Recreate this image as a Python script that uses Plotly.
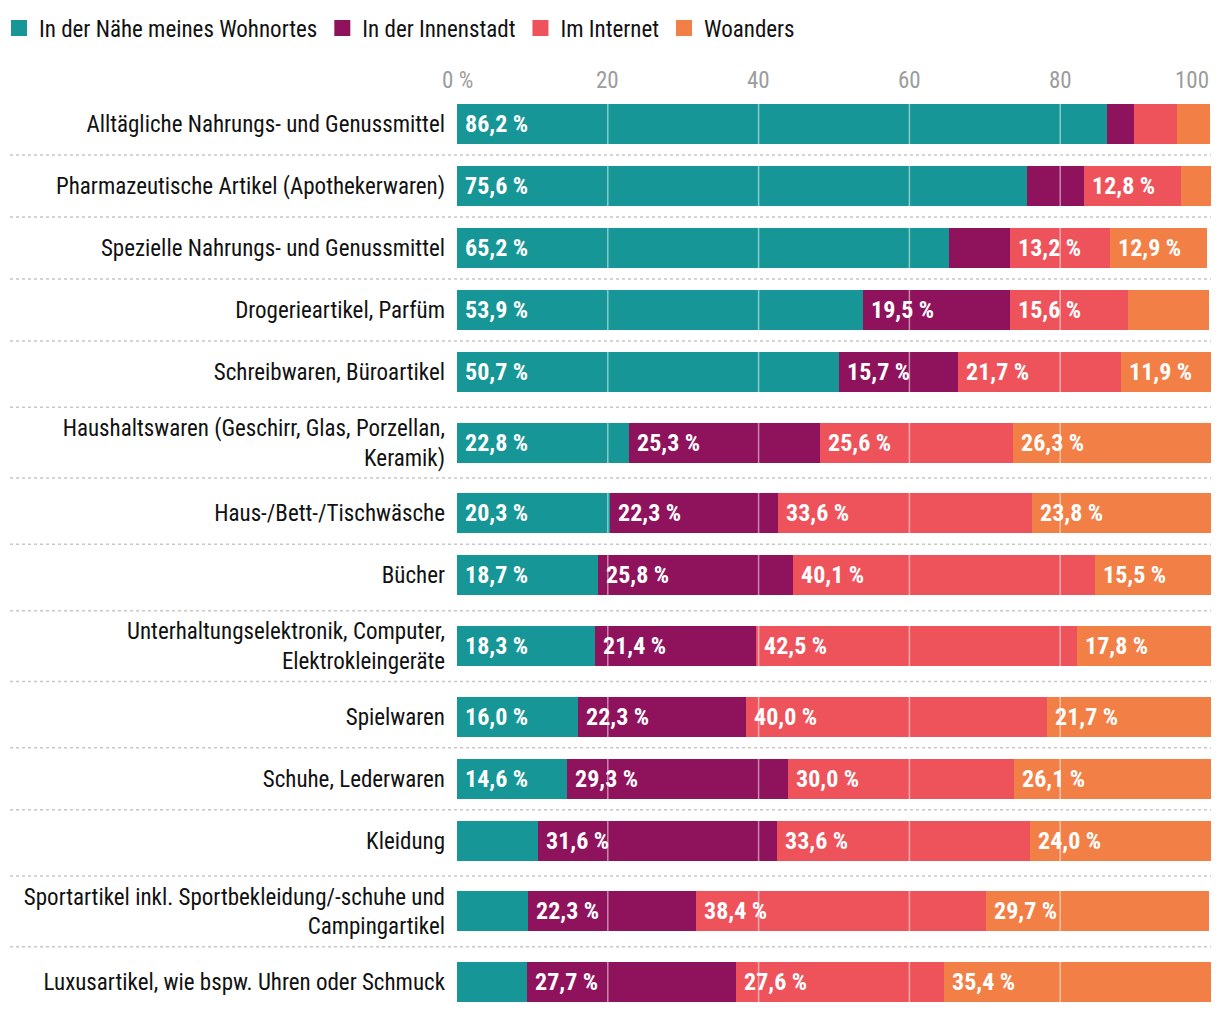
import plotly.graph_objects as go

# ---------------- data ----------------
categories = [
    "Alltägliche Nahrungs- und Genussmittel",
    "Pharmazeutische Artikel (Apothekerwaren)",
    "Spezielle Nahrungs- und Genussmittel",
    "Drogerieartikel, Parfüm",
    "Schreibwaren, Büroartikel",
    "Haushaltswaren (Geschirr, Glas, Porzellan,<br>Keramik)",
    "Haus-/Bett-/Tischwäsche",
    "Bücher",
    "Unterhaltungselektronik, Computer,<br>Elektrokleingeräte",
    "Spielwaren",
    "Schuhe, Lederwaren",
    "Kleidung",
    "Sportartikel inkl. Sportbekleidung/-schuhe und<br>Campingartikel",
    "Luxusartikel, wie bspw. Uhren oder Schmuck",
]

series_names = ["In der Nähe meines Wohnortes", "In der Innenstadt", "Im Internet", "Woanders"]

naehe      = [86.2, 75.6, 65.2, 53.9, 50.7, 22.8, 20.3, 18.7, 18.3, 16.0, 14.6, 10.8, 9.4, 9.3]
innenstadt = [3.6, 7.6, 8.2, 19.5, 15.7, 25.3, 22.3, 25.8, 21.4, 22.3, 29.3, 31.6, 22.3, 27.7]
internet   = [5.7, 12.8, 13.2, 15.6, 21.7, 25.6, 33.6, 40.1, 42.5, 40.0, 30.0, 33.6, 38.4, 27.6]
woanders   = [4.4, 4.0, 12.9, 10.8, 11.9, 26.3, 23.8, 15.5, 17.8, 21.7, 26.1, 24.0, 29.7, 35.4]

tick_values = [0, 20, 40, 60, 80, 100]
tick_labels = ["0 %", "20", "40", "60", "80", "100"]

# ---------------- style ----------------
colors = ["#169696", "#8e125c", "#ee535b", "#f27f45"]
FONT = "Liberation Sans Narrow, Roboto Condensed, Arial Narrow, Roboto, sans-serif"
W, H = 1220, 1014
M_L, M_R, M_T, M_B = 449, 17, 86, 18
PX_PER_ROW = 62.0
BAR_W = 40 / PX_PER_ROW
LABEL_MIN = 11

all_series = [naehe, innenstadt, internet, woanders]

# row centres: two-line labels get taller rows
centers = []
pos = 0.0
prev_h = None
for cat in categories:
    h = 1 + 0.28 * cat.count("<br>")
    if prev_h is not None:
        pos += (prev_h + h) / 2
    centers.append(pos)
    prev_h = h

plot_h = H - M_T - M_B
plot_w = W - M_L - M_R
y_top = centers[0] - 0.484
y_bottom = y_top + plot_h / PX_PER_ROW

fig = go.Figure()

for name, vals, col in zip(series_names, all_series, colors):
    fig.add_trace(go.Bar(
        x=vals, y=centers, orientation="h", name=name,
        marker=dict(color=col, line=dict(width=0)),
        width=BAR_W, showlegend=False, hoverinfo="skip",
    ))

# legend entries (larger square markers)
for name, col in zip(series_names, colors):
    fig.add_trace(go.Scatter(
        x=[None], y=[None], mode="markers", name=name,
        marker=dict(symbol="square", size=20, color=col),
        showlegend=True,
    ))

annotations = []
# value labels
for i, c in enumerate(centers):
    start = 0.0
    for vals in all_series:
        v = vals[i]
        if v >= LABEL_MIN:
            annotations.append(dict(
                x=start, y=c, xref="x", yref="y", xanchor="left", yanchor="middle",
                xshift=6, showarrow=False,
                text=f"{v:.1f}".replace(".", ",") + " %",
                font=dict(family=FONT, size=24, color="white", weight="bold"),
            ))
        start += v

# top axis labels
for tv, tl in zip(tick_values, tick_labels):
    annotations.append(dict(
        x=tv, y=1, xref="x", yref="paper",
        xanchor="right" if tv == tick_values[-1] else "center",
        yanchor="bottom", yshift=-2, showarrow=False, text=tl,
        font=dict(family=FONT, size=23, color="#9c9c9c"),
    ))

shapes = []
# dotted separators between rows
x_left_paper = (2 - M_L) / plot_w
for a, b in zip(centers[:-1], centers[1:]):
    ym = (a + b) / 2
    shapes.append(dict(
        type="line", xref="paper", yref="y", x0=x_left_paper, x1=1.0, y0=ym, y1=ym,
        line=dict(color="#c8c8c8", width=1.5, dash="dot"), layer="below",
    ))
# grid lines drawn above bars
for tv in tick_values[1:-1]:
    shapes.append(dict(
        type="line", xref="x", yref="paper", x0=tv, x1=tv, y0=0, y1=1,
        line=dict(color="rgba(255,255,255,0.5)", width=1.5), layer="above",
    ))

fig.update_layout(
    width=W, height=H,
    margin=dict(l=M_L, r=M_R, t=M_T, b=M_B, autoexpand=False),
    barmode="stack", bargap=0,
    plot_bgcolor="white", paper_bgcolor="white",
    font=dict(family=FONT, size=23, color="#111111"),
    xaxis=dict(range=[0, 100], showticklabels=False, showgrid=False, zeroline=False,
               showline=False, fixedrange=True),
    yaxis=dict(range=[y_bottom, y_top], tickvals=centers, ticktext=categories,
               showgrid=False, zeroline=False, showline=False, ticks="",
               ticklabelstandoff=11, fixedrange=True,
               tickfont=dict(family=FONT, size=23, color="#111111")),
    legend=dict(orientation="h", x=(-9 - M_L) / plot_w, xanchor="left",
                y=1 + (M_T - 20) / plot_h, yanchor="middle",
                font=dict(family=FONT, size=23, color="#111111"),
                itemsizing="trace", bgcolor="rgba(0,0,0,0)", traceorder="normal"),
    annotations=annotations, shapes=shapes,
)

fig.write_html("out.html")
